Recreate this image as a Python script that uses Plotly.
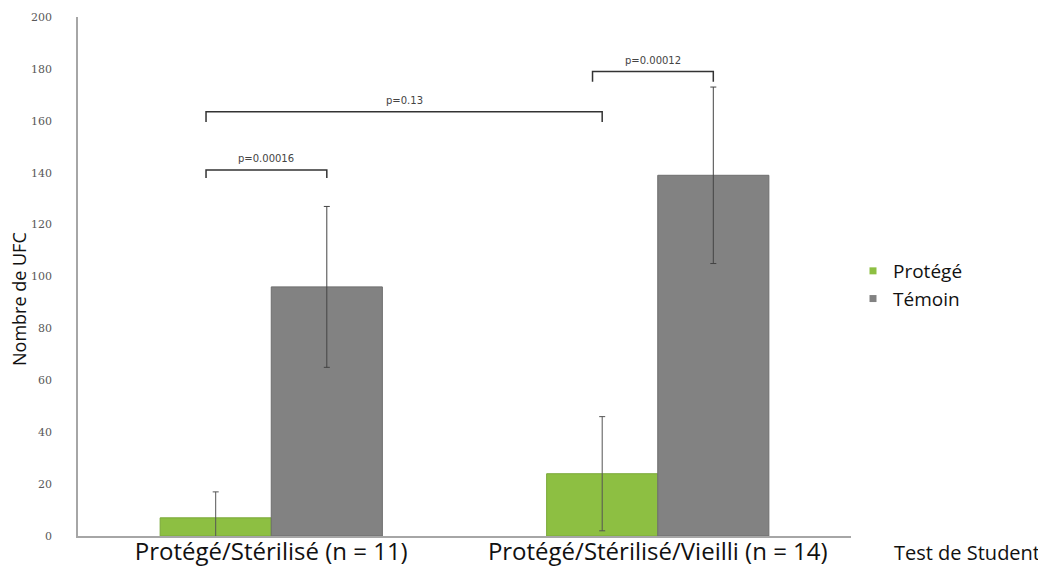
import plotly.graph_objects as go

categories = ["Protégé/Stérilisé (n = 11)", "Protégé/Stérilisé/Vieilli (n = 14)"]
protege_vals = [7, 24]
protege_err = [10, 22]
temoin_vals = [96, 139]
temoin_err = [31, 34]

# brackets: (left category index, left series, right category index, right series, level, foot drop, label)
brackets = [
    (0, "P", 0, "T", 141, 3, "p=0.00016"),
    (0, "P", 1, "P", 163.5, 4, "p=0.13"),
    (1, "P", 1, "T", 179, 4, "p=0.00012"),
]

GREEN = "#8DBF42"
GRAY = "#828282"
BARGAP = 0.425
off = (1 - BARGAP) / 4

# page has an 8px body margin; figure occupies page px 8..1046, 8..566
W, H = 1038, 558
PAD = 8
L, R, T, B = 78 - PAD, 195, 17 - PAD, 30
PW = W - L - R
PH = H - T - B


def px_x(page_x):
    return (page_x - PAD - L) / PW


def px_y(page_y):
    return (H - B - (page_y - PAD)) / PH


fig = go.Figure()
fig.add_trace(go.Bar(
    x=categories, y=protege_vals, name="Protégé", showlegend=False,
    marker=dict(color=GREEN, line=dict(color="#7AA838", width=1)),
    error_y=dict(type="data", array=protege_err, color="#555555", thickness=1, width=3),
))
fig.add_trace(go.Bar(
    x=categories, y=temoin_vals, name="Témoin", showlegend=False,
    marker=dict(color=GRAY, line=dict(color="#6E6E6E", width=1)),
    error_y=dict(type="data", array=temoin_err, color="#444444", thickness=1, width=3),
))
# legend entries with small square swatches
for nm, col in [("Protégé", GREEN), ("Témoin", GRAY)]:
    fig.add_trace(go.Scatter(x=[None], y=[None], mode="markers", name=nm,
                             marker=dict(symbol="square", size=7, color=col)))

for ci, si, cj, sj, lvl, drop, label in brackets:
    x0 = ci + (-off if si == "P" else off) - 0.025
    x1 = cj + (-off if sj == "P" else off)
    fig.add_shape(type="path",
                  path=f"M {x0} {lvl-drop} L {x0} {lvl} L {x1} {lvl} L {x1} {lvl-drop}",
                  xref="x", yref="y", line=dict(color="#333333", width=1.5))
    fig.add_annotation(x=(x0 + x1) / 2, y=lvl + 1.5, text=label, showarrow=False,
                       yanchor="bottom", xref="x", yref="y",
                       font=dict(family="DejaVu Sans", size=10, color="#444444"))

fig.add_annotation(x=px_x(967), y=px_y(552), xref="paper", yref="paper",
                   text="Test de Student", showarrow=False, xanchor="center", yanchor="middle",
                   font=dict(family="Open Sans", size=20, color="#111111"))
fig.add_annotation(x=px_x(19), y=px_y(299), xref="paper", yref="paper",
                   text="Nombre de UFC", showarrow=False, textangle=-90,
                   xanchor="center", yanchor="middle",
                   font=dict(family="Open Sans", size=18, color="#111111"))

fig.update_layout(
    width=W, height=H,
    margin=dict(l=L, r=R, t=T, b=B),
    plot_bgcolor="white", paper_bgcolor="white",
    barmode="group", bargap=BARGAP, bargroupgap=0,
    font=dict(family="Open Sans", color="#111111"),
    legend=dict(x=px_x(853), y=px_y(285), xanchor="left", yanchor="middle",
                font=dict(size=19, color="#111111"),
                itemwidth=30, tracegroupgap=0, bgcolor="rgba(0,0,0,0)"),
    showlegend=True,
)
fig.update_xaxes(type="category", showline=True, linecolor="#A6A6A6", linewidth=1.5,
                 ticks="", tickfont=dict(size=24, color="#111111", family="Open Sans"),
                 ticklabelstandoff=-7,
                 range=[-0.5, 1.5], showgrid=False, automargin=False)
fig.update_yaxes(range=[0, 200], dtick=20, showline=True, linecolor="#A6A6A6", linewidth=1.5,
                 showgrid=False, zeroline=False, ticks="", ticklabelstandoff=22,
                 tickfont=dict(size=11, color="#595959", family="DejaVu Serif"),
                 automargin=False)

fig.write_html("out.html")
